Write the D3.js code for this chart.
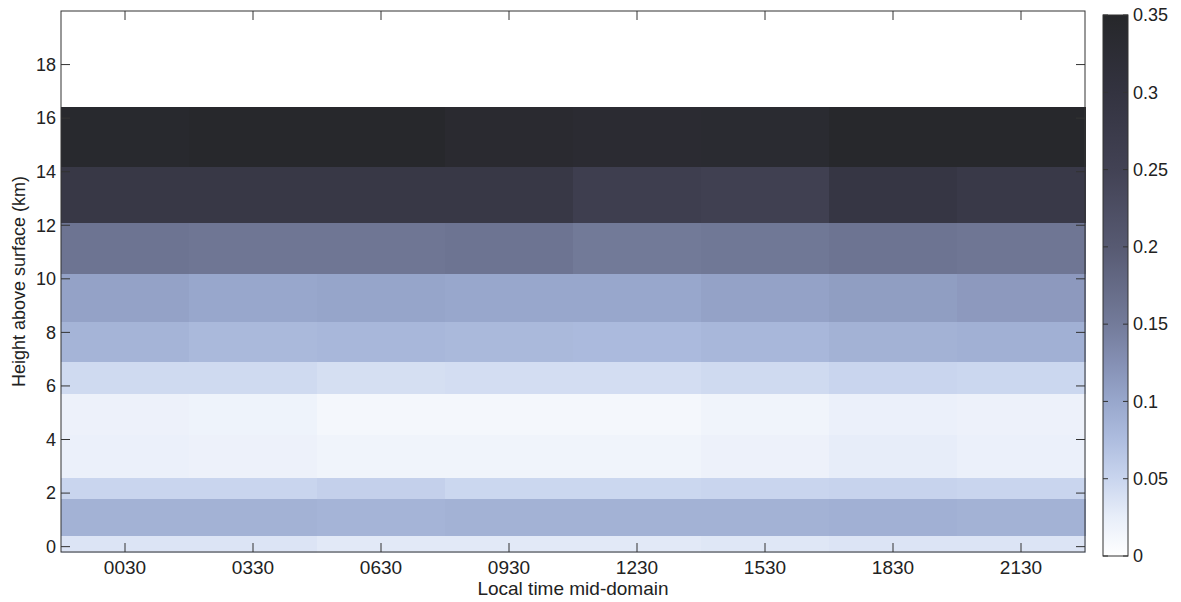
<!DOCTYPE html>
<html>
<head>
<meta charset="utf-8">
<script src="https://cdn.jsdelivr.net/npm/d3@7"></script>
<style>
  body { margin: 0; background: #fff; }
  svg text { font-family: "Liberation Sans", Arial, Helvetica, sans-serif; fill: #222; }
</style>
</head>
<body>
<svg id="chart" width="1181" height="602"></svg>
<script>
// ---- data ----
const timeLabels = ["0030", "0330", "0630", "0930", "1230", "1530", "1830", "2130"];
const timeCenters = [0.5, 3.5, 6.5, 9.5, 12.5, 15.5, 18.5, 21.5]; // hours
const timeStep = 3;
const heightEdges = [-0.2, 0.4, 1.8, 2.6, 4.2, 5.7, 6.9, 8.4, 10.2, 12.1, 14.2, 16.4]; // km
// values[layer][column], layers from bottom to top
const values = [
  [0.035, 0.035, 0.030, 0.030, 0.030, 0.032, 0.035, 0.035],
  [0.088, 0.088, 0.085, 0.088, 0.088, 0.088, 0.090, 0.088],
  [0.050, 0.050, 0.055, 0.048, 0.048, 0.050, 0.052, 0.050],
  [0.022, 0.020, 0.016, 0.016, 0.016, 0.020, 0.026, 0.022],
  [0.020, 0.018, 0.012, 0.012, 0.012, 0.016, 0.022, 0.020],
  [0.045, 0.045, 0.040, 0.042, 0.042, 0.045, 0.050, 0.048],
  [0.085, 0.080, 0.082, 0.080, 0.078, 0.082, 0.088, 0.090],
  [0.105, 0.100, 0.102, 0.100, 0.100, 0.105, 0.110, 0.115],
  [0.160, 0.158, 0.158, 0.160, 0.152, 0.155, 0.160, 0.158],
  [0.285, 0.285, 0.285, 0.285, 0.262, 0.258, 0.290, 0.280],
  [0.342, 0.346, 0.346, 0.336, 0.332, 0.334, 0.346, 0.346]
];
const heightTicks = [0, 2, 4, 6, 8, 10, 12, 14, 16, 18];
const colorTicks = [0, 0.05, 0.1, 0.15, 0.2, 0.25, 0.3, 0.35];
const colorTickLabels = ["0", "0.05", "0.1", "0.15", "0.2", "0.25", "0.3", "0.35"];
// colormap (reversed "bone" as it appears in the figure)
const cmapStops = [0, 0.025, 0.05, 0.075, 0.1, 0.125, 0.15, 0.2, 0.25, 0.3, 0.35];
const cmapColors = ["#ffffff", "#e8eef9", "#c9d5ee", "#aebddf", "#98a7cc", "#8590b4",
                    "#737b9a", "#575a72", "#424254", "#333340", "#26272a"];

// ---- layout ----
const svg = d3.select("#chart");
const L = 61, R = 1085, T = 11, B = 552;
const x = d3.scaleLinear().domain([-1, 23]).range([L, R]);
const y = d3.scaleLinear().domain([-0.2, 20]).range([B, T]);
const color = d3.scaleLinear().domain(cmapStops).range(cmapColors).interpolate(d3.interpolateRgb).clamp(true);

// cells
const cells = [];
values.forEach((row, i) => row.forEach((v, j) => cells.push({
  x0: timeCenters[j] - timeStep / 2, x1: timeCenters[j] + timeStep / 2,
  y0: heightEdges[i], y1: heightEdges[i + 1], v
})));
svg.append("g").attr("shape-rendering", "crispEdges").selectAll("rect").data(cells).join("rect")
  .attr("x", d => x(d.x0))
  .attr("y", d => y(d.y1))
  .attr("width", d => x(d.x1) - x(d.x0) + 0.5)
  .attr("height", d => y(d.y0) - y(d.y1) + 0.5)
  .attr("fill", d => color(d.v));

// axes
const axisColor = "#333";
const tickLen = 9;
const fs = 18;
const ax = svg.append("g");
ax.append("rect").attr("x", L).attr("y", T).attr("width", R - L).attr("height", B - T)
  .attr("fill", "none").attr("stroke", axisColor).attr("stroke-width", 1);

// x ticks (bottom and top, inward)
timeCenters.forEach((t, i) => {
  const px = x(t);
  ax.append("line").attr("x1", px).attr("x2", px).attr("y1", B).attr("y2", B - tickLen).attr("stroke", axisColor);
  ax.append("line").attr("x1", px).attr("x2", px).attr("y1", T).attr("y2", T + tickLen).attr("stroke", axisColor);
  ax.append("text").attr("x", px).attr("y", B + 22).attr("text-anchor", "middle")
    .attr("font-size", fs + 1).text(timeLabels[i]);
});
// y ticks (left and right, inward)
heightTicks.forEach(h => {
  const py = y(h);
  ax.append("line").attr("x1", L).attr("x2", L + tickLen).attr("y1", py).attr("y2", py).attr("stroke", axisColor);
  ax.append("line").attr("x1", R).attr("x2", R - tickLen).attr("y1", py).attr("y2", py).attr("stroke", axisColor);
  ax.append("text").attr("x", L - 5).attr("y", py).attr("dy", "0.35em").attr("text-anchor", "end")
    .attr("font-size", fs).text(h);
});

// axis titles
svg.append("text").attr("x", (L + R) / 2).attr("y", 595).attr("text-anchor", "middle")
  .attr("font-size", fs + 1).text("Local time mid-domain");
svg.append("text").attr("transform", `translate(25,${(T + B) / 2}) rotate(-90)`)
  .attr("text-anchor", "middle").attr("font-size", fs).text("Height above surface (km)");

// colorbar
const CL = 1103, CR = 1128, CT = 15, CB = 556;
const cy = d3.scaleLinear().domain([0, 0.35]).range([CB, CT]);
const grad = svg.append("defs").append("linearGradient").attr("id", "cbar")
  .attr("x1", 0).attr("x2", 0).attr("y1", 1).attr("y2", 0);
grad.selectAll("stop").data(cmapStops).join("stop")
  .attr("offset", d => d / 0.35)
  .attr("stop-color", d => color(d));
const cb = svg.append("g");
cb.append("rect").attr("x", CL).attr("y", CT).attr("width", CR - CL).attr("height", CB - CT)
  .attr("fill", "url(#cbar)").attr("stroke", axisColor);
colorTicks.forEach((c, i) => {
  const py = cy(c);
  cb.append("line").attr("x1", CL).attr("x2", CL + 5).attr("y1", py).attr("y2", py).attr("stroke", axisColor);
  cb.append("line").attr("x1", CR).attr("x2", CR - 5).attr("y1", py).attr("y2", py).attr("stroke", axisColor);
  cb.append("text").attr("x", CR + 5).attr("y", py).attr("dy", "0.35em")
    .attr("font-size", fs).text(colorTickLabels[i]);
});
</script>
</body>
</html>
